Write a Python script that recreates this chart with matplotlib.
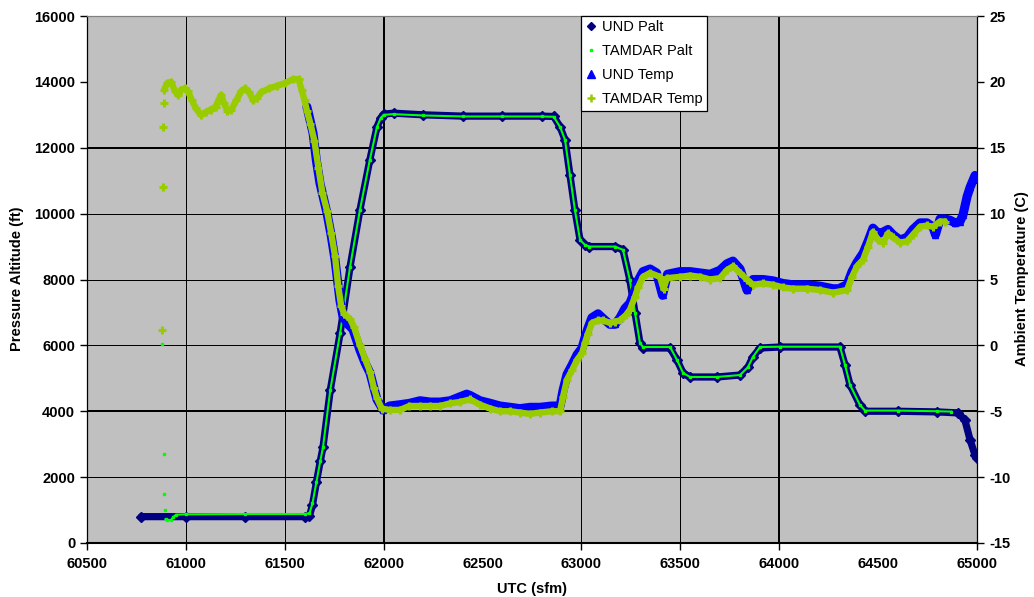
import numpy as np
import matplotlib
matplotlib.use("Agg")
import matplotlib.pyplot as plt
from matplotlib.lines import Line2D

# ---------------- data (UTC seconds from midnight) ----------------
und_palt_utc = [60775, 61000, 61300, 61600, 61625, 61640, 61660, 61680, 61693, 61730,
                61780, 61830, 61880, 61930, 61966, 61985, 62000, 62050, 62200, 62400,
                62600, 62800, 62860, 62892, 62917, 62942, 62967, 62993, 63018, 63040,
                63170, 63210, 63245, 63271, 63296, 63311, 63448, 63483, 63514, 63549,
                63685, 63802, 63842, 63867, 63903, 64004, 64307, 64333, 64358, 64408,
                64434, 64600, 64800, 64904, 64939, 64965, 64990, 65000]
und_palt_ft = [800, 800, 800, 800, 830, 1150, 1850, 2500, 2900, 4640,
               6375, 8380, 10110, 11630, 12630, 12900, 13020, 13050, 13000, 12960,
               12960, 12960, 12950, 12630, 12240, 11170, 10110, 9200, 9050, 9000,
               9000, 8900, 7980, 6980, 6070, 5920, 5920, 5560, 5160, 5040,
               5040, 5100, 5340, 5650, 5920, 5950, 5950, 5400, 4800, 4190,
               4000, 4000, 3980, 3950, 3730, 3130, 2670, 2580]

tamdar_palt_utc = [60879, 60887, 60888, 60893,
                   60897, 60905, 60925, 60935, 60950, 61000, 61300, 61600, 61625, 61640,
                   61660, 61680, 61693, 61730, 61780, 61830, 61880, 61930, 61966, 61985,
                   62000, 62050, 62200, 62400, 62600, 62800, 62860, 62892, 62917, 62942,
                   62967, 62993, 63018, 63040, 63170, 63210, 63245, 63271, 63296, 63311,
                   63448, 63483, 63514, 63549, 63685, 63802, 63842, 63867, 63903, 64004,
                   64307, 64333, 64358, 64408, 64434, 64600, 64800, 64870]
tamdar_palt_ft = [6040, 2700, 1500, 1000,
                  720, 700, 700, 780, 860, 870, 880, 880, 900, 1200,
                  1850, 2500, 2900, 4640, 6375, 8380, 10110, 11630, 12630, 12900,
                  13000, 13020, 12980, 12950, 12950, 12950, 12940, 12630, 12240, 11170,
                  10110, 9200, 9050, 9000, 9000, 8900, 7980, 6980, 6070, 5950,
                  5950, 5560, 5160, 5040, 5040, 5100, 5340, 5650, 5950, 5960,
                  5960, 5400, 4800, 4190, 4020, 4020, 4000, 3990]
n_tamdar_palt_spikes = 4

und_temp_utc = [61612, 61620, 61643, 61660, 61678, 61714, 61735, 61754, 61779, 61794,
                61820, 61845, 61880, 61905, 61931, 61950, 61966, 61997, 62030, 62083,
                62130, 62184, 62235, 62285, 62336, 62386, 62420, 62437, 62487, 62540,
                62588, 62640, 62689, 62740, 62790, 62850, 62892, 62907, 62927, 62952,
                62978, 63003, 63018, 63033, 63053, 63084, 63120, 63144, 63170, 63195,
                63220, 63245, 63271, 63286, 63311, 63347, 63380, 63410, 63435, 63498,
                63549, 63600, 63650, 63700, 63736, 63766, 63802, 63837, 63867, 63918,
                63969, 64019, 64070, 64141, 64206, 64272, 64300, 64343, 64368, 64393,
                64424, 64449, 64474, 64500, 64525, 64550, 64575, 64611, 64646, 64676,
                64712, 64747, 64777, 64790, 64813, 64838, 64864, 64889, 64914, 64929,
                64950, 64965, 64990, 65000]
und_temp_c = [18.1, 17.6, 16.1, 14.0, 12.3, 10.0, 8.3, 6.5, 3.4, 2.2,
              1.6, 1.2, -0.35, -1.3, -2.1, -3.2, -4.1, -4.9, -4.6, -4.5,
              -4.4, -4.2, -4.3, -4.3, -4.2, -3.9, -3.7, -3.8, -4.2, -4.4,
              -4.6, -4.7, -4.8, -4.7, -4.7, -4.6, -4.6, -3.4, -2.2, -1.5,
              -0.7, -0.2, 0.6, 1.3, 2.1, 2.4, 1.9, 1.6, 1.6, 2.1,
              2.8, 3.2, 4.2, 4.9, 5.6, 5.8, 5.5, 3.8, 5.4, 5.6,
              5.6, 5.5, 5.4, 5.7, 6.2, 6.4, 5.8, 4.2, 5.0, 5.0,
              4.9, 4.7, 4.6, 4.6, 4.5, 4.3, 4.3, 4.6, 5.6, 6.3,
              7.0, 7.9, 8.9, 8.5, 8.6, 8.8, 8.4, 8.0, 8.2, 8.8,
              9.3, 9.3, 9.0, 8.4, 9.6, 9.6, 9.5, 9.3, 9.4, 9.9,
              11.3, 12.0, 12.9, 12.6]

tamdar_temp_utc = [60880, 60884, 60886, 60888,
                   60890, 60905, 60925, 60945, 60960, 60975, 60995, 61010, 61030, 61050,
                   61075, 61100, 61125, 61150, 61165, 61178, 61192, 61210, 61230, 61255,
                   61280, 61300, 61320, 61340, 61360, 61380, 61420, 61460, 61500, 61540,
                   61570, 61585, 61600, 61612, 61630, 61650, 61670, 61690, 61714, 61735,
                   61754, 61770, 61785, 61800, 61830, 61850, 61880, 61905, 61931, 61950,
                   61966, 61990, 62030, 62083, 62130, 62184, 62235, 62285, 62336, 62386,
                   62437, 62487, 62540, 62588, 62640, 62689, 62740, 62790, 62850, 62892,
                   62907, 62927, 62952, 62978, 63003, 63018, 63033, 63053, 63084, 63110,
                   63144, 63170, 63195, 63225, 63245, 63271, 63286, 63311, 63347, 63397,
                   63415, 63432, 63498, 63549, 63600, 63650, 63700, 63735, 63767, 63802,
                   63837, 63867, 63918, 63968, 64019, 64069, 64140, 64206, 64272, 64343,
                   64368, 64393, 64424, 64449, 64474, 64500, 64525, 64550, 64575, 64611,
                   64646, 64676, 64712, 64747, 64777, 64813, 64838]
tamdar_temp_c = [1.2, 12.0, 16.6, 18.4,
                 19.4, 19.9, 20.0, 19.3, 19.0, 19.4, 19.5, 19.3, 18.6, 18.0,
                 17.5, 17.7, 17.9, 18.1, 18.6, 19.0, 18.4, 17.8, 17.9, 18.6,
                 19.3, 19.5, 19.2, 18.6, 18.8, 19.2, 19.5, 19.7, 19.9, 20.2,
                 20.2, 19.4, 18.6, 17.8, 16.8, 15.5, 13.5, 11.6, 10.2, 8.5,
                 6.8, 4.5, 3.0, 2.4, 2.0, 1.4, 0.0, -1.0, -2.0, -3.2,
                 -4.0, -4.8, -4.9, -4.9, -4.6, -4.6, -4.6, -4.6, -4.4, -4.3,
                 -4.1, -4.5, -4.8, -5.0, -5.0, -5.1, -5.2, -5.1, -5.0, -5.0,
                 -3.9, -2.6, -1.9, -1.1, -0.6, 0.2, 0.9, 1.7, 1.9, 1.9,
                 1.7, 1.8, 1.9, 2.3, 2.7, 3.7, 4.4, 5.2, 5.5, 5.2,
                 4.3, 5.1, 5.2, 5.3, 5.2, 5.0, 5.1, 5.7, 6.0, 5.5,
                 5.0, 4.6, 4.7, 4.6, 4.4, 4.3, 4.3, 4.2, 4.0, 4.2,
                 5.2, 6.0, 6.5, 7.5, 8.6, 8.0, 7.8, 8.5, 8.2, 7.8,
                 7.9, 8.4, 9.0, 9.1, 9.0, 9.4, 9.4]
n_tamdar_temp_spikes = 4

x_ticks = [60500, 61000, 61500, 62000, 62500, 63000, 63500, 64000, 64500, 65000]
palt_ticks = [0, 2000, 4000, 6000, 8000, 10000, 12000, 14000, 16000]
temp_ticks = [-15, -10, -5, 0, 5, 10, 15, 20, 25]

series_labels = ["UND Palt", "TAMDAR Palt", "UND Temp", "TAMDAR Temp"]

# ---------------- styling ----------------
NAVY = "#000080"
LIME = "#00FF00"
BLUE = "#0000FF"
OLIVE = "#99CC00"
PLOT_BG = "#C0C0C0"

W, H = 1034, 597
fig = plt.figure(figsize=(W / 100, H / 100), dpi=100)
fig.patch.set_facecolor("white")

left, right, top, bottom = 87, 977, 16, 543
ax = fig.add_axes([left / W, 1 - bottom / H, (right - left) / W, (bottom - top) / H])
ax.set_facecolor(PLOT_BG)
ax2 = ax.twinx()
ax2.patch.set_visible(False)

tick_font = dict(family="Liberation Sans", weight="bold", size=10.5)

# pressure altitude on primary axis
ax.plot(und_palt_utc, und_palt_ft, color=NAVY, lw=5.2, solid_joinstyle="round",
        solid_capstyle="round", marker="D", ms=5, mec=NAVY, mfc=NAVY, zorder=3)
tp_x = tamdar_palt_utc[n_tamdar_palt_spikes:]
tp_y = tamdar_palt_ft[n_tamdar_palt_spikes:]
ax.plot(tp_x, tp_y, color=LIME, lw=1.5, zorder=4)
ax.plot(tamdar_palt_utc, tamdar_palt_ft, ls="none", marker="s", ms=2,
        mec=LIME, mfc=LIME, zorder=4)

# temperatures on secondary axis
ax2.plot(und_temp_utc, und_temp_c, color=BLUE, lw=6.5, solid_joinstyle="round",
         solid_capstyle="round", marker="^", ms=5, mec=BLUE, mfc=BLUE, zorder=3)
tt_x = tamdar_temp_utc[n_tamdar_temp_spikes:]
tt_y = tamdar_temp_c[n_tamdar_temp_spikes:]
ax2.plot(tt_x, tt_y, color=OLIVE, lw=4.6, solid_joinstyle="round",
         solid_capstyle="round", zorder=4)
ax2.plot(tamdar_temp_utc, tamdar_temp_c, ls="none", marker="+", ms=6, mew=2.2,
         color=OLIVE, zorder=4)

# axes limits and ticks
ax.set_xlim(x_ticks[0], x_ticks[-1])
ax.set_ylim(palt_ticks[0], palt_ticks[-1])
ax2.set_ylim(temp_ticks[0], temp_ticks[-1])
ax.set_xticks(x_ticks)
ax.set_yticks(palt_ticks)
ax2.set_yticks(temp_ticks)
ax.set_xticklabels([str(v) for v in x_ticks], fontdict=tick_font)
ax.set_yticklabels([str(v) for v in palt_ticks], fontdict=tick_font)
ax2.set_yticklabels([str(v) for v in temp_ticks], fontdict=tick_font)

ax.tick_params(axis="x", direction="out", length=5, width=1, pad=5, colors="black")
ax.tick_params(axis="y", direction="out", length=5, width=1, pad=3.5, colors="black")
ax2.tick_params(axis="y", direction="out", length=5, width=1, pad=4, colors="black")

# gridlines (Excel-style major grid)
ax.set_axisbelow(True)
ax.grid(True, color="black", lw=1.0)
x_grid_w = [0, 1.0, 1.0, 2.0, 0, 1.0, 1.0, 2.0, 0, 0]
y_grid_w = [0, 1.0, 2.0, 1.0, 1.0, 1.0, 2.0, 0, 0]
for t, w in zip(ax.xaxis.get_major_ticks(), x_grid_w):
    if w == 0:
        t.gridline.set_visible(False)
    else:
        t.gridline.set_linewidth(w * 0.72)
for t, w in zip(ax.yaxis.get_major_ticks(), y_grid_w):
    if w == 0:
        t.gridline.set_visible(False)
    else:
        t.gridline.set_linewidth(w * 0.72)
for i in (4, 8):
    ax.xaxis.get_major_ticks()[i].tick1line.set_visible(False)

# spines
for a in (ax, ax2):
    a.spines["top"].set_color("#808080")
    a.spines["top"].set_linewidth(0.8)
ax.spines["right"].set_visible(False)
ax2.spines["left"].set_visible(False)
ax2.spines["bottom"].set_visible(False)
ax.spines["left"].set_linewidth(0.9)
ax.spines["bottom"].set_linewidth(1.5)
ax2.spines["right"].set_linewidth(0.9)

# axis titles
label_font = dict(family="Liberation Sans", weight="bold", size=10.5)
fig.text(17 / W, 1 - 279 / H, "Pressure Altitude (ft)", rotation=90,
         ha="center", va="center", fontdict=label_font)
fig.text(1022 / W, 1 - 279 / H, "Ambient Temperature (C)", rotation=90,
         ha="center", va="center", fontdict=label_font)
fig.text(532 / W, 1 - 589 / H, "UTC (sfm)", ha="center", va="center",
         fontdict=label_font)

# legend with marker-only keys
handles = [
    Line2D([], [], ls="none", marker="D", ms=4.5, color=NAVY),
    Line2D([], [], ls="none", marker="s", ms=2, color=LIME),
    Line2D([], [], ls="none", marker="^", ms=5.5, color=BLUE),
    Line2D([], [], ls="none", marker="+", ms=5.5, mew=1.8, color=OLIVE),
]
leg = fig.legend(handles, series_labels, loc="upper left",
                 bbox_to_anchor=(581 / W, 1 - 16 / H), bbox_transform=fig.transFigure,
                 borderaxespad=0, frameon=True, fancybox=False, framealpha=1,
                 edgecolor="black", facecolor="white", handlelength=0.8,
                 handletextpad=0.35, labelspacing=0.68, borderpad=0.3,
                 prop=dict(family="Liberation Sans", size=10.5))
leg.get_frame().set_linewidth(0.9)

fig.savefig("out.png", dpi=100)
